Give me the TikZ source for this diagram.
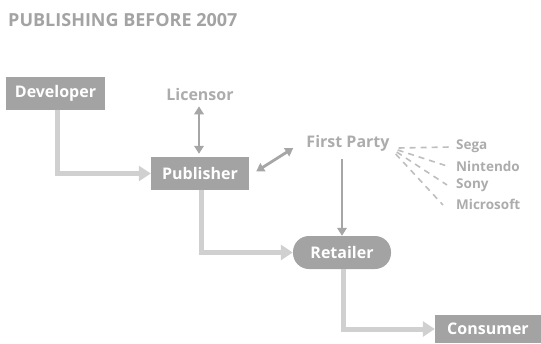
\documentclass[tikz,border=0pt]{standalone}
\usepackage{fontspec}
\setmainfont{Open Sans}
\usetikzlibrary{arrows.meta,calc}
\definecolor{boxgrey}{HTML}{A3A3A3}
\definecolor{labgrey}{HTML}{ACACAC}
\definecolor{flowgrey}{HTML}{D0D0D0}
\definecolor{linkgrey}{HTML}{A6A6A6}
\definecolor{fangrey}{HTML}{BEBEBE}
\tikzset{
  stage/.style={fill=boxgrey, text=white, font=\bfseries\fontsize{16}{19}\selectfont,
    minimum height=33pt, inner sep=0pt},
  party/.style={text=labgrey, font=\bfseries\fontsize{16}{19}\selectfont, inner sep=0pt},
  brand/.style={text=labgrey, font=\bfseries\fontsize{13.5}{16}\selectfont, inner sep=0pt, anchor=west},
  flow/.style={draw=flowgrey, line width=5pt, -{Triangle[length=12pt,width=15pt]}},
  link/.style={draw=linkgrey, line width=2.8pt},
  ltip/.tip={Triangle[length=8pt,width=9.5pt]},
  fan/.style={draw=fangrey, line width=1.6pt, dash pattern=on 6pt off 5pt}
}
\begin{document}
\begin{tikzpicture}[x=1pt,y=-1pt]
\useasboundingbox (0,0) rectangle (541,343);
\node[text=boxgrey, font=\bfseries\fontsize{18}{21}\selectfont, anchor=west, inner sep=0pt] (title) at (8,20) {PUBLISHING BEFORE 2007};

\node[stage, minimum width=99pt] (dev) at (55.5,93.5) {Developer};
\node[party] (lic) at (200,94) {Licensor};
\node[stage, minimum width=98pt] (pub) at (200,173.5) {Publisher};
\node[party] (fp) at (348,143) {First Party};
\node[stage, minimum width=98pt, rounded corners=16pt] (ret) at (342,252.5) {Retailer};
\node[stage, minimum width=106pt, minimum height=28pt] (con) at (488,329) {Consumer};

\node[brand] (sega) at (456,146) {Sega};
\node[brand] (nin) at (456,166) {Nintendo};
\node[brand] (sony) at (456,185) {Sony};
\node[brand] (ms) at (456,204) {Microsoft};

% main flow
\draw[flow] ([xshift=1.5pt]dev.south) |- (pub.west);
\draw[flow] ([xshift=1pt]pub.south) |- (ret.west);
\draw[flow] ([xshift=1pt]ret.south) |- (con.west);

% links
\draw[link, ltip-ltip] ($(lic.south)+(-1,6)$) -- ($(pub.north)+(-1,-3)$);
\draw[link, ltip-ltip] ($(pub.east)+(7,-2)$) -- ($(fp.west)+(-13,5)$);
\draw[link, -ltip] (ret.north |- 0,159) -- (ret.north);

% first-party console makers
\draw[fan] ($(fp.east)+(9,5)$) -- ($(sega.west)+(-6,1)$);
\draw[fan] ($(fp.east)+(8,7)$) -- ($(nin.west)+(-6,1)$);
\draw[fan] ($(fp.east)+(7,9)$) -- ($(sony.west)+(-9,0)$);
\draw[fan] ($(fp.east)+(6,11)$) -- ($(ms.west)+(-13,1)$);
\end{tikzpicture}
\end{document}
